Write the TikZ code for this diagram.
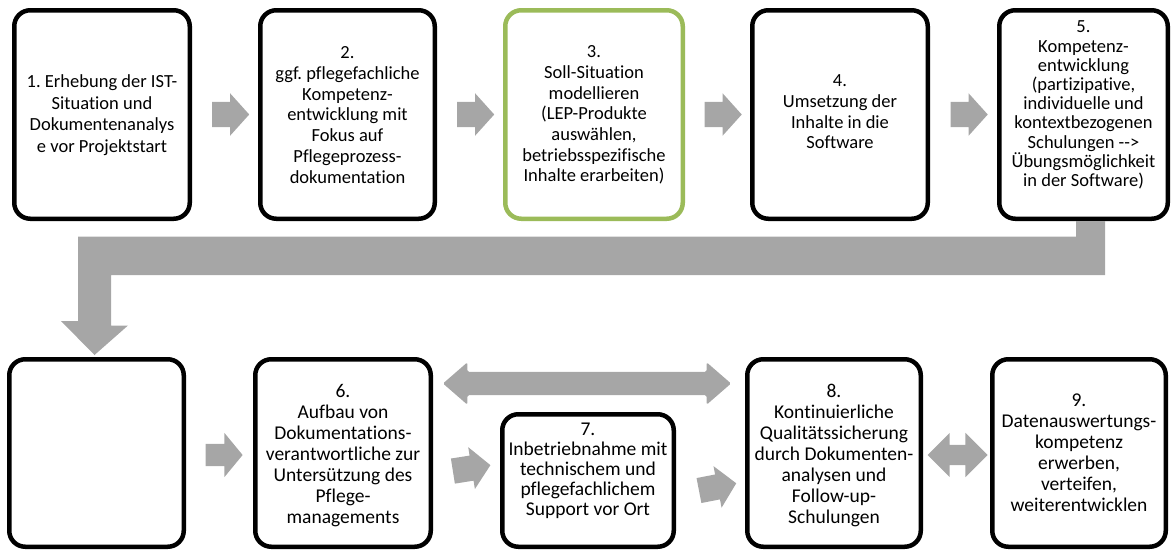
\documentclass[tikz,border=0pt]{standalone}
\usepackage{fontspec}
\setmainfont{Carlito}[Ligatures={TeX,NoCommon}]
\usetikzlibrary{shapes.arrows,calc}
\definecolor{arrowgray}{HTML}{A6A6A6}
\definecolor{boxgreen}{HTML}{9BBB59}
\frenchspacing
\begin{document}
\begin{tikzpicture}[x=1pt,y=-1pt,
  box/.style={draw=black,line width=4.5pt,rounded corners=16pt,inner sep=0pt},
  gbox/.style={box,draw=boxgreen},
  txt/.style={align=center,inner sep=0pt,font=\fontsize{18.5}{20.7}\selectfont},
  txtb/.style={align=center,inner sep=0pt,font=\fontsize{19.5}{21}\selectfont},
  sarr/.style={single arrow,fill=arrowgray,draw=none,inner xsep=0pt,inner ysep=12.5pt,
    minimum height=37pt,minimum width=0pt,single arrow tip angle=96,single arrow head extend=8.5pt},
  darr/.style={double arrow,fill=arrowgray,draw=none,inner xsep=0pt,minimum width=0pt}
]
\useasboundingbox (0,0) rectangle (1172,549);
% top row
\node[box, minimum width=175.5pt,minimum height=208.5pt] (b1) at (102,114.5) {};
\node[box, minimum width=174.5pt,minimum height=208.5pt] (b2) at (347.5,114.5) {};
\node[gbox,minimum width=177.5pt,minimum height=208.5pt] (b3) at (594,114.5) {};
\node[box, minimum width=175.5pt,minimum height=208.5pt] (b4) at (840,114.5) {};
\node[box, minimum width=168.5pt,minimum height=208.5pt] (b5) at (1083.5,114.5) {};
% bottom row
\node[box, minimum width=174.5pt,minimum height=187.5pt] (bA) at (96.5,453) {};
\node[box, minimum width=175.5pt,minimum height=187.5pt] (b6) at (343,453) {};
\node[box, minimum width=171.5pt,minimum height=132.5pt] (b7) at (588,480.5) {};
\node[box, minimum width=173.5pt,minimum height=187.5pt] (b8) at (834,453) {};
\node[box, minimum width=173.5pt,minimum height=187.5pt] (b9) at (1079,453) {};
% texts
\node[txt,font=\fontsize{18.5}{21.5}\selectfont] (t1) at (102,115) {1. Erhebung der IST-\\Situation und\\Dokumentenanalys\\e vor Projektstart};
\node[txt] (t2) at (347.5,115) {2.\\ggf. pflegefachliche\\Kompetenz-\\entwicklung mit\\Fokus auf\\Pflegeprozess-\\dokumentation};
\node[txt] (t3) at (594,115) {3.\\Soll-Situation\\modellieren\\(LEP-Produkte\\auswählen,\\betriebsspezifische\\Inhalte erarbeiten)};
\node[txt] (t4) at (840,112) {4.\\Umsetzung der\\Inhalte in die\\Software};
\node[txt,font=\fontsize{18.5}{19.2}\selectfont] (t5) at (1083.5,105) {5.\\Kompetenz-\\entwicklung\\(partizipative,\\individuelle und\\kontextbezogenen\\Schulungen -{}-{}>\\Übungsmöglichkeit\\in der Software)};
\node[txtb] (t6) at (343,456) {6.\\Aufbau von\\Dokumentations-\\verantwortliche zur\\Untersützung des\\Pflege-\\managements};
\node[txtb,font=\fontsize{19.5}{20}\selectfont] (t7) at (588,471) {7.\\Inbetriebnahme mit\\technischem und\\pflegefachlichem\\Support vor Ort};
\node[txtb] (t8) at (834,456) {8.\\Kontinuierliche\\Qualitätssicherung\\durch Dokumenten-\\analysen und\\Follow-up-\\Schulungen};
\node[txtb] (t9) at (1079,453) {9.\\Datenauswertungs-\\kompetenz\\erwerben,\\verteifen,\\weiterentwicklen};
% top arrows
\node[sarr] (a12) at ($(b1.east)!0.5!(b2.west)$) {};
\node[sarr] (a23) at ($(b2.east)!0.5!(b3.west)$) {};
\node[sarr] (a34) at ($(b3.east)!0.5!(b4.west)$) {};
\node[sarr] (a45) at ($(b4.east)!0.5!(b5.west)$) {};
% bent arrow from b5 to bA
\fill[arrowgray] ($(b5.south)+(-7.5,0)$) -- ++(29,0) -- ++(0,54) -- ++(-994,0) -- ++(0,50.5)
  -- ++(17,0) -- ($(bA.north)+(-2,-2)$) -- ++(-33.5,-34) -- ++(17,0) -- ++(0,-84.5) -- ++(998,0) -- cycle;
% bottom arrows
\node[sarr,inner ysep=11pt,single arrow head extend=11pt,single arrow tip angle=101] (aA6) at ($(bA.east)!0.5!(b6.west)+(0,2)$) {};
\node[sarr,minimum height=38pt,rotate=9] (a67) at (466,469) {};
\node[sarr,minimum height=38pt,rotate=11] (a78) at (712,488) {};
\node[darr,rounded corners=1.5pt,inner ysep=11.5pt,minimum height=288pt,double arrow tip angle=82,double arrow head extend=9.5pt] (a68) at ($(b6.east)!0.5!(b8.west)+(-2,-69.5)$) {};
\node[darr,inner ysep=10pt,minimum height=60pt,double arrow tip angle=90,double arrow head extend=12pt] (a89) at ($(b8.east)!0.5!(b9.west)+(1,2)$) {};
\end{tikzpicture}
\end{document}
